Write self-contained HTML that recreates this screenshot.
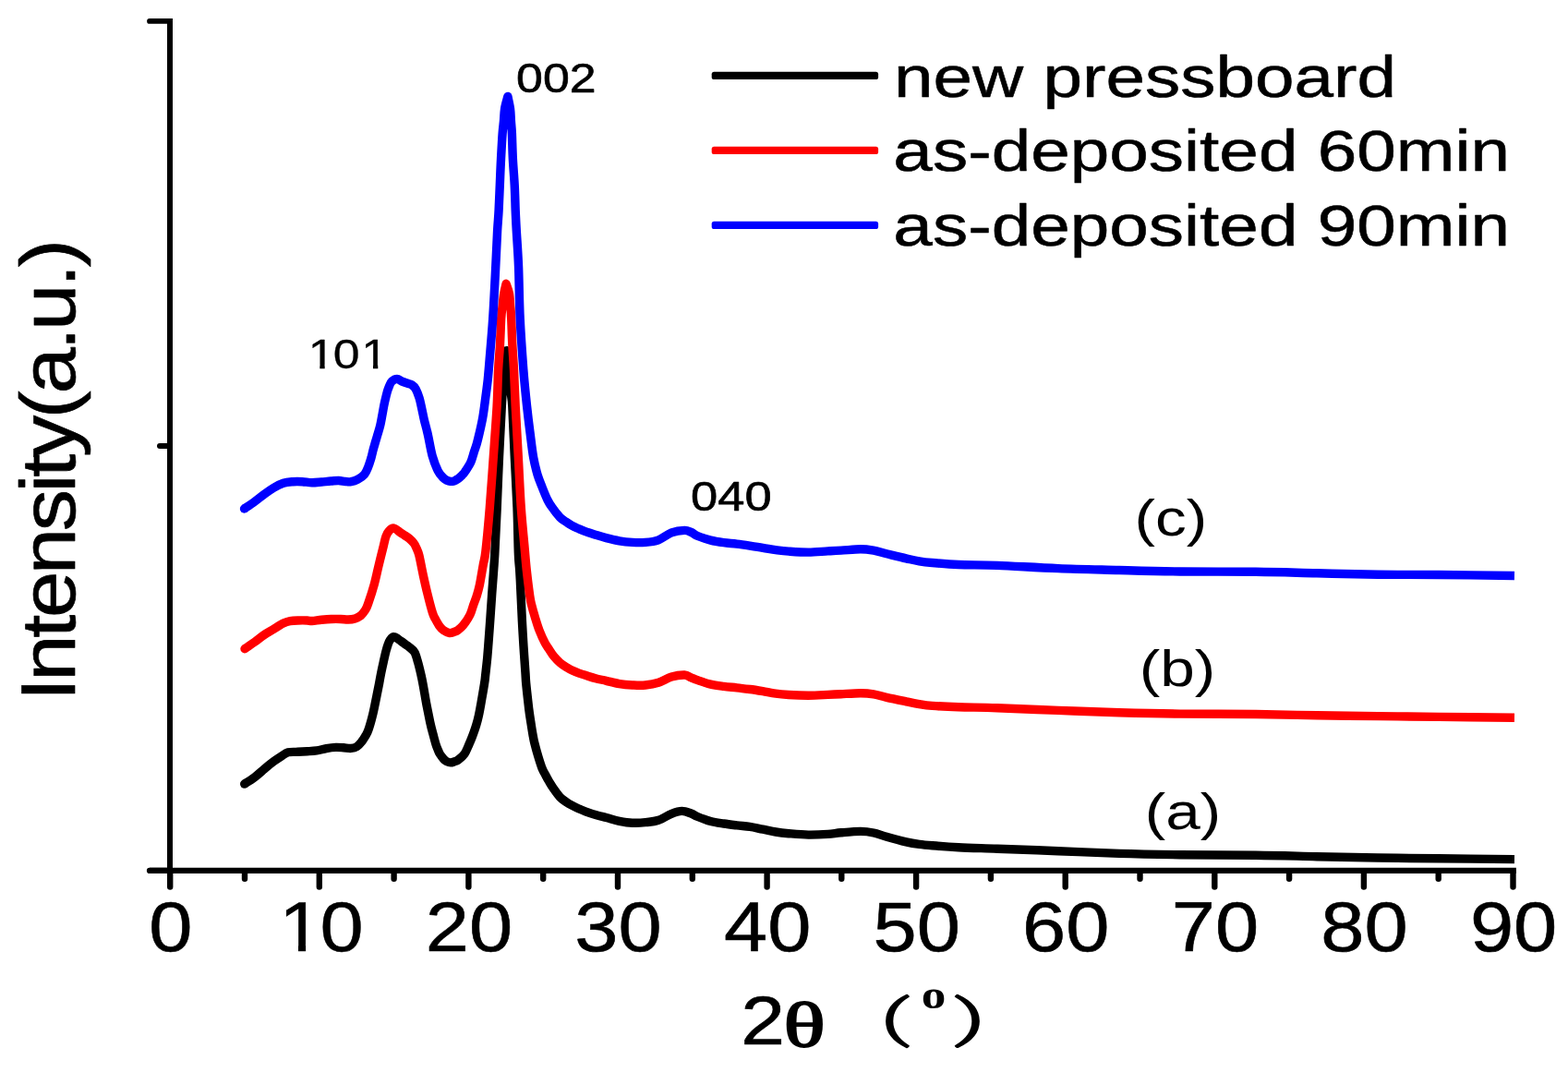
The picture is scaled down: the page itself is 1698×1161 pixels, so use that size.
<!DOCTYPE html>
<html lang="en">
<head>
<meta charset="utf-8">
<title>XRD patterns</title>
<style>
html,body{margin:0;padding:0;background:#fff;}
body{width:1698px;height:1161px;overflow:hidden;}
svg{display:block;}
svg text{white-space:pre;}
</style>
</head>
<body>
<svg width="1698" height="1161" viewBox="0 0 1698 1161" role="img" aria-label="XRD patterns of pressboard samples">
<rect width="1698" height="1161" fill="#fff"/>
<defs><clipPath id="c101" clipPathUnits="userSpaceOnUse"><path clip-rule="evenodd" d="M-400 -200H800V200H-400ZM2.00 -9.5H27.74V4H2.00ZM37.93 -9.5H58.39V4H37.93ZM113.24 -9.5H138.98V4H113.24ZM149.17 -9.5H169.63V4H149.17Z"/></clipPath><clipPath id="c10" clipPathUnits="userSpaceOnUse"><path clip-rule="evenodd" d="M-400 -200H800V200H-400ZM2.00 -9.5H28.07V4H2.00ZM37.60 -9.5H58.39V4H37.60Z"/></clipPath></defs>
<g fill="none" stroke-linejoin="round" stroke-linecap="butt" stroke-width="9.4">
<path stroke="#000" d="M264.7 849.1C266.6 847.9 272.2 844.4 275.8 841.7C279.4 839.0 282.8 835.8 286.2 832.9C289.6 830.0 293.4 826.9 296.5 824.6C299.6 822.3 302.2 820.5 304.8 818.9C307.4 817.3 309.1 815.6 312.0 814.8C314.9 814.0 318.9 814.5 322.4 814.3C325.8 814.1 329.3 813.9 332.7 813.7C336.1 813.5 339.6 813.4 343.0 812.9C346.4 812.4 349.9 811.2 353.4 810.6C356.8 810.0 360.6 809.5 363.7 809.4C366.8 809.3 369.2 809.6 372.0 809.8C374.8 810.0 377.8 810.6 380.2 810.4C382.6 810.2 384.5 809.8 386.4 808.6C388.3 807.4 390.1 805.3 391.6 803.4C393.2 801.5 394.4 799.4 395.7 797.2C396.9 795.0 397.8 794.0 399.1 790.0C400.5 786.0 402.3 779.6 403.8 773.4C405.3 767.2 407.0 758.1 408.1 752.7C409.2 747.4 409.6 745.2 410.4 741.3C411.1 737.4 411.8 733.3 412.6 729.3C413.4 725.3 414.3 721.2 415.2 717.2C416.1 713.2 417.2 708.1 418.0 705.1C418.8 702.1 419.1 701.1 419.8 699.1C420.5 697.1 421.2 694.8 422.3 693.3C423.4 691.8 424.6 689.6 426.6 689.8C428.6 689.9 432.1 692.9 434.1 694.2C436.1 695.5 437.2 696.5 438.7 697.6C440.2 698.7 441.5 699.5 443.2 700.9C444.9 702.3 447.3 703.6 448.9 706.3C450.5 709.0 451.5 713.4 452.6 717.2C453.7 721.0 454.7 725.3 455.6 729.3C456.5 733.3 457.1 735.7 458.1 741.3C459.2 746.9 460.6 756.2 461.9 763.0C463.2 769.8 464.6 776.8 465.7 782.0C466.8 787.2 467.6 790.1 468.7 794.1C469.8 798.1 471.1 803.2 472.0 806.1C472.9 809.0 473.2 809.5 473.9 811.2C474.6 812.9 475.1 814.6 476.2 816.4C477.3 818.2 479.3 820.7 480.5 822.1C481.7 823.5 482.4 824.0 483.6 824.6C484.8 825.2 486.4 825.9 487.8 825.9C489.2 825.9 490.5 825.4 491.9 824.9C493.3 824.4 494.1 824.5 496.0 823.1C497.9 821.7 501.0 819.2 503.0 816.4C505.0 813.6 506.5 809.4 507.9 806.3C509.3 803.1 510.2 801.0 511.5 797.5C512.8 794.0 514.6 789.0 515.7 785.3C516.9 781.5 517.5 779.1 518.4 775.0C519.3 770.9 520.1 766.5 521.1 760.7C522.1 754.9 523.9 744.8 524.6 740.0C525.4 735.2 525.1 736.8 525.6 732.0C526.1 727.2 527.2 718.2 527.8 711.3C528.4 704.4 528.9 697.6 529.4 690.7C529.9 683.8 530.4 677.6 530.9 670.0C531.4 662.4 531.8 656.8 532.6 645.1C533.4 633.4 534.9 615.9 535.8 600.0C536.7 584.1 537.4 567.5 538.2 550.0C539.0 532.5 539.6 513.3 540.5 495.0C541.4 476.7 542.7 451.7 543.3 440.0C543.9 428.3 543.9 431.1 544.1 425.0C544.4 418.9 544.5 409.4 544.8 403.6C545.1 397.8 545.4 394.0 546.0 390.0C546.6 386.0 548.2 381.3 548.6 379.6C549.0 381.3 550.5 386.0 551.2 390.0C551.9 394.0 552.3 397.8 552.6 403.6C552.9 409.4 552.8 418.9 553.2 425.0C553.6 431.1 554.1 428.3 554.8 440.0C555.5 451.7 556.4 476.7 557.3 495.0C558.2 513.3 559.3 532.5 560.0 550.0C560.7 567.5 560.9 588.7 561.4 600.0C561.9 611.3 562.2 610.1 562.7 617.6C563.2 625.1 563.7 635.9 564.1 645.1C564.5 654.3 564.9 663.5 565.4 672.7C565.9 681.9 566.4 691.0 567.0 700.2C567.6 709.4 568.4 721.2 568.9 727.8C569.4 734.4 569.1 733.4 569.7 740.0C570.3 746.6 571.9 760.6 572.7 767.6C573.6 774.6 574.1 777.4 574.8 782.0C575.5 786.6 576.2 791.3 576.9 795.1C577.6 798.9 577.9 801.0 578.9 805.0C579.9 809.0 581.3 814.2 582.7 818.8C584.1 823.4 585.9 829.1 587.2 832.6C588.6 836.1 589.6 837.2 590.8 839.5C592.0 841.8 593.2 844.1 594.6 846.4C596.0 848.7 596.9 850.4 598.9 853.2C600.9 856.0 604.0 860.6 606.4 863.2C608.8 865.8 610.9 867.0 613.2 868.6C615.5 870.2 617.8 871.4 620.1 872.6C622.4 873.8 624.7 875.0 627.0 876.0C629.3 877.0 630.9 877.7 633.9 878.8C636.9 879.9 641.2 881.4 645.0 882.5C648.8 883.6 652.2 884.4 656.5 885.5C660.8 886.6 666.0 888.3 670.7 889.3C675.4 890.2 680.1 891.0 684.8 891.2C689.5 891.4 694.2 891.2 698.9 890.7C703.6 890.2 708.4 889.9 713.1 888.3C717.8 886.7 723.0 882.9 727.2 881.3C731.4 879.6 735.0 878.4 738.5 878.4C742.0 878.4 745.6 880.0 748.4 881.0C751.2 882.0 752.0 883.1 755.5 884.5C759.0 885.9 764.9 888.2 769.6 889.5C774.3 890.8 779.0 891.3 783.7 892.0C788.4 892.7 793.2 893.3 797.9 893.9C802.6 894.5 807.3 894.7 812.0 895.4C816.7 896.1 821.4 897.3 826.1 898.2C830.8 899.1 835.3 900.2 840.0 901.0C844.7 901.8 848.2 902.2 854.1 902.7C860.0 903.2 868.2 904.0 875.3 904.1C882.4 904.2 890.6 903.8 896.5 903.4C902.4 903.0 904.8 902.3 910.7 901.8C916.6 901.3 926.0 900.4 931.9 900.4C937.8 900.4 941.3 901.0 946.0 902.0C950.7 903.0 954.2 904.6 960.1 906.2C966.0 907.9 975.4 910.5 981.3 911.9C987.2 913.3 990.8 913.8 995.5 914.4C1000.2 915.0 1002.5 915.2 1009.6 915.8C1016.7 916.4 1026.2 917.2 1037.9 917.8C1049.6 918.4 1062.0 918.6 1080.0 919.2C1098.0 919.9 1124.0 920.8 1146.0 921.7C1168.0 922.6 1190.0 923.7 1212.0 924.4C1234.0 925.1 1253.3 925.4 1278.0 925.7C1302.7 926.0 1335.3 925.9 1360.0 926.2C1384.7 926.5 1404.0 927.2 1426.0 927.7C1448.0 928.2 1470.0 928.6 1492.0 929.0C1514.0 929.4 1533.3 929.5 1558.0 929.8C1582.7 930.1 1626.3 930.5 1640.0 930.6"/>
<path stroke="#f00" d="M265.0 702.8C266.8 701.5 272.3 697.8 275.8 695.3C279.3 692.8 282.8 689.8 286.2 687.5C289.6 685.2 293.1 683.4 296.5 681.3C299.9 679.2 303.9 676.5 306.8 675.1C309.7 673.7 311.5 673.2 314.1 672.7C316.7 672.2 319.3 672.1 322.4 672.0C325.5 671.9 330.1 671.9 332.7 672.0C335.3 672.1 335.3 672.6 337.9 672.5C340.5 672.4 344.8 671.5 348.2 671.2C351.6 670.9 355.1 670.6 358.5 670.5C361.9 670.4 365.8 670.4 368.9 670.5C372.0 670.6 374.5 671.1 377.1 671.0C379.7 670.9 382.1 670.6 384.4 669.9C386.6 669.2 388.7 668.3 390.6 666.8C392.5 665.2 394.3 662.8 395.7 660.6C397.1 658.4 397.2 658.0 398.8 653.4C400.4 648.8 403.4 639.6 405.3 632.7C407.2 625.8 408.5 618.9 410.2 612.0C411.9 605.1 414.0 596.5 415.3 591.3C416.6 586.1 416.9 583.8 417.9 581.0C418.9 578.2 420.1 576.3 421.5 574.8C422.9 573.3 424.4 571.6 426.5 572.0C428.6 572.4 431.9 575.7 433.9 577.0C435.9 578.3 437.0 579.0 438.5 580.0C440.0 581.0 441.5 581.7 443.1 583.1C444.7 584.5 447.0 586.8 448.3 588.5C449.6 590.2 449.9 591.0 450.8 593.2C451.7 595.4 452.7 596.8 453.9 601.7C455.1 606.6 456.7 615.5 458.2 622.4C459.7 629.3 461.2 636.1 462.9 643.0C464.6 649.9 467.0 659.2 468.4 663.7C469.8 668.2 469.9 667.6 471.2 670.0C472.5 672.4 474.5 676.2 476.0 678.3C477.5 680.4 478.5 681.4 480.3 682.6C482.1 683.8 484.9 685.3 486.8 685.6C488.7 685.9 490.2 684.9 491.7 684.4C493.2 683.9 494.3 683.6 495.9 682.4C497.5 681.2 499.3 680.0 501.5 677.3C503.7 674.6 507.1 669.6 508.9 666.0C510.7 662.4 511.3 659.2 512.5 655.7C513.7 652.2 515.1 649.0 516.3 645.3C517.4 641.6 518.2 639.0 519.4 633.5C520.5 628.0 522.1 618.1 523.2 612.0C524.3 605.9 524.7 607.3 525.9 597.0C527.1 586.7 528.9 567.2 530.3 550.2C531.7 533.2 533.0 513.5 534.3 495.1C535.6 476.7 537.2 455.8 538.1 440.0C539.0 424.2 539.0 411.4 539.6 400.2C540.2 389.0 541.0 381.9 541.5 372.7C542.0 363.5 542.3 352.0 542.7 345.1C543.1 338.2 543.6 335.9 544.1 331.3C544.6 326.7 545.1 321.6 545.8 317.6C546.5 313.6 547.7 309.0 548.1 307.3C548.6 309.0 550.6 313.6 551.4 317.6C552.2 321.6 552.3 326.7 552.7 331.3C553.1 335.9 553.4 338.2 553.7 345.1C554.1 352.0 554.3 363.5 554.8 372.7C555.3 381.9 555.9 389.0 556.5 400.2C557.1 411.4 557.4 424.2 558.2 440.0C559.0 455.8 560.3 476.7 561.3 495.1C562.3 513.5 563.2 534.4 564.3 550.2C565.4 566.0 566.8 578.8 567.8 590.0C568.8 601.2 569.3 608.4 570.3 617.6C571.3 626.8 572.8 638.9 573.7 645.1C574.6 651.3 574.6 651.0 575.6 655.0C576.6 659.0 578.1 664.2 579.5 668.8C580.9 673.4 582.2 678.0 584.0 682.6C585.8 687.2 588.4 693.0 590.2 696.4C592.0 699.8 593.1 700.9 594.6 703.2C596.1 705.6 597.5 708.1 599.5 710.5C601.5 712.9 604.1 715.7 606.4 717.7C608.7 719.7 610.9 721.0 613.2 722.4C615.5 723.8 617.8 725.2 620.1 726.3C622.4 727.4 624.7 728.3 627.0 729.1C629.3 729.9 630.9 730.4 633.9 731.3C636.9 732.2 641.2 733.7 645.0 734.7C648.8 735.7 652.2 736.3 656.5 737.3C660.8 738.3 666.0 739.8 670.7 740.6C675.4 741.4 680.1 741.8 684.8 742.0C689.5 742.2 694.2 742.5 698.9 742.0C703.6 741.5 708.4 740.7 713.1 739.2C717.8 737.7 722.5 734.5 727.2 733.1C731.9 731.7 737.8 730.9 741.3 731.0C744.8 731.1 746.0 732.9 748.4 733.8C750.8 734.7 752.0 735.4 755.5 736.6C759.0 737.8 764.9 740.1 769.6 741.2C774.3 742.3 779.0 742.8 783.7 743.4C788.4 744.0 793.2 744.3 797.9 744.8C802.6 745.3 807.3 745.9 812.0 746.5C816.7 747.1 821.4 747.9 826.1 748.7C830.8 749.5 835.3 750.6 840.0 751.2C844.7 751.8 848.2 752.1 854.1 752.5C860.0 752.9 868.2 753.3 875.3 753.3C882.4 753.3 890.6 752.7 896.5 752.4C902.4 752.1 904.8 752.0 910.7 751.7C916.6 751.4 926.0 750.7 931.9 750.7C937.8 750.7 941.3 751.0 946.0 751.8C950.7 752.6 954.2 754.1 960.1 755.4C966.0 756.7 975.4 758.6 981.3 759.8C987.2 761.0 990.8 761.8 995.5 762.6C1000.2 763.4 1002.5 763.9 1009.6 764.4C1016.7 764.9 1026.2 765.4 1037.9 765.8C1049.6 766.2 1062.0 766.1 1080.0 766.7C1098.0 767.3 1124.0 768.6 1146.0 769.4C1168.0 770.2 1190.0 771.1 1212.0 771.7C1234.0 772.3 1253.3 772.8 1278.0 773.1C1302.7 773.4 1335.3 773.2 1360.0 773.5C1384.7 773.8 1404.0 774.4 1426.0 774.8C1448.0 775.1 1470.0 775.3 1492.0 775.6C1514.0 775.9 1533.3 776.1 1558.0 776.4C1582.7 776.7 1626.3 777.1 1640.0 777.3"/>
<path stroke="#00f" d="M264.5 551.0C266.4 549.7 272.2 545.8 275.8 543.2C279.4 540.6 282.8 537.7 286.2 535.2C289.6 532.7 293.1 530.2 296.5 528.2C299.9 526.2 303.4 524.4 306.8 523.3C310.2 522.2 313.8 522.0 317.2 521.7C320.6 521.4 324.1 521.5 327.5 521.7C330.9 521.9 334.4 522.8 337.9 522.8C341.3 522.8 344.8 522.3 348.2 522.0C351.6 521.7 355.4 521.2 358.5 521.0C361.6 520.8 364.2 520.4 366.8 520.5C369.4 520.6 371.8 521.3 374.0 521.5C376.2 521.7 377.9 522.1 380.2 521.7C382.4 521.3 385.1 520.4 387.5 519.1C389.9 517.8 392.8 516.0 394.7 513.7C396.6 511.4 397.6 508.4 398.8 505.5C400.0 502.6 400.9 499.5 401.9 496.2C402.8 492.9 403.4 489.7 404.5 485.8C405.6 481.9 407.1 476.8 408.3 472.7C409.5 468.6 410.7 465.2 411.6 461.3C412.6 457.4 413.2 453.2 414.0 449.2C414.8 445.2 415.3 441.2 416.2 437.2C417.1 433.2 418.3 428.1 419.1 425.1C419.9 422.1 420.4 421.1 421.2 419.1C422.0 417.2 422.5 414.8 424.0 413.4C425.5 411.9 428.1 410.4 430.0 410.4C431.9 410.4 433.5 412.4 435.4 413.2C437.3 414.0 439.7 414.7 441.5 415.3C443.3 415.9 444.7 416.0 446.2 417.0C447.7 418.0 449.0 419.0 450.3 421.4C451.6 423.8 453.0 427.6 454.1 431.2C455.2 434.8 456.0 439.2 456.9 443.2C457.8 447.2 458.6 451.7 459.5 455.3C460.4 458.9 461.3 462.1 462.0 465.0C462.7 467.9 462.8 468.0 463.8 472.7C464.8 477.4 466.4 487.2 468.1 493.4C469.9 499.6 472.3 505.9 474.3 510.0C476.3 514.1 478.7 516.1 480.3 517.8C481.9 519.5 482.8 519.6 484.0 520.2C485.2 520.8 486.2 521.2 487.5 521.3C488.8 521.4 490.3 521.3 491.7 520.9C493.1 520.5 494.4 519.6 495.9 518.6C497.4 517.6 499.2 515.9 500.5 514.6C501.8 513.3 502.0 513.3 503.5 511.0C505.0 508.7 508.0 504.4 509.6 501.0C511.2 497.6 511.9 494.1 513.0 490.7C514.1 487.2 515.4 483.9 516.4 480.3C517.4 476.7 518.1 473.7 519.2 469.0C520.3 464.3 521.7 458.3 522.8 452.0C523.9 445.7 524.8 438.2 525.7 431.3C526.6 424.4 527.6 417.6 528.3 410.7C529.0 403.8 529.2 400.9 530.1 390.0C531.0 379.1 532.6 361.8 533.7 345.1C534.8 328.4 535.9 305.9 536.7 290.0C537.5 274.1 538.0 260.4 538.6 250.0C539.2 239.6 539.7 236.1 540.1 227.8C540.5 219.5 540.9 209.4 541.3 200.2C541.7 191.0 542.0 181.9 542.5 172.7C543.0 163.5 543.6 151.9 544.1 145.0C544.6 138.1 545.1 135.6 545.5 131.0C545.9 126.4 545.9 122.0 546.6 117.6C547.3 113.2 549.4 106.6 549.9 104.4C550.3 106.6 551.9 113.2 552.5 117.6C553.1 122.0 553.1 126.4 553.4 131.0C553.7 135.6 554.1 138.1 554.4 145.0C554.7 151.9 554.9 163.5 555.4 172.7C555.9 181.9 556.7 191.0 557.2 200.2C557.7 209.4 557.9 219.5 558.2 227.8C558.6 236.1 558.7 239.6 559.3 250.0C559.9 260.4 561.0 274.1 561.6 290.0C562.2 305.9 562.3 326.7 563.2 345.1C564.1 363.5 565.6 384.4 566.8 400.2C568.0 416.0 569.4 428.8 570.6 440.0C571.8 451.2 572.7 458.4 573.9 467.6C575.1 476.8 576.2 487.4 577.6 495.1C579.0 502.8 580.4 508.4 582.0 513.8C583.6 519.2 585.3 523.0 587.1 527.6C588.9 532.2 591.2 537.9 592.9 541.4C594.6 544.9 595.0 545.5 597.3 548.6C599.5 551.8 603.8 557.5 606.4 560.3C609.0 563.1 610.9 563.8 613.2 565.3C615.5 566.8 617.8 568.4 620.1 569.6C622.4 570.9 624.7 571.8 627.0 572.8C629.3 573.8 630.9 574.5 633.9 575.6C636.9 576.7 641.2 578.0 645.0 579.2C648.8 580.4 652.2 581.5 656.5 582.6C660.8 583.7 666.0 585.0 670.7 585.8C675.4 586.6 680.1 587.1 684.8 587.4C689.5 587.7 694.2 587.8 698.9 587.4C703.6 587.0 708.4 586.5 713.1 584.8C717.8 583.0 722.5 578.6 727.2 576.9C731.9 575.2 737.8 574.5 741.3 574.4C744.8 574.3 746.0 575.4 748.4 576.4C750.8 577.4 752.0 579.0 755.5 580.5C759.0 582.0 764.9 583.9 769.6 585.1C774.3 586.3 779.0 587.0 783.7 587.7C788.4 588.4 793.2 588.5 797.9 589.1C802.6 589.7 807.3 590.4 812.0 591.1C816.7 591.8 821.4 592.5 826.1 593.3C830.8 594.0 835.3 595.0 840.0 595.6C844.7 596.2 848.2 596.7 854.1 597.1C860.0 597.5 868.2 598.1 875.3 598.1C882.4 598.1 890.6 597.2 896.5 596.9C902.4 596.6 904.8 596.5 910.7 596.1C916.6 595.8 926.0 594.8 931.9 594.8C937.8 594.8 941.3 595.4 946.0 596.2C950.7 597.0 954.2 598.4 960.1 599.8C966.0 601.2 975.4 603.5 981.3 604.8C987.2 606.1 990.8 607.0 995.5 607.8C1000.2 608.6 1002.5 608.9 1009.6 609.5C1016.7 610.1 1026.2 611.0 1037.9 611.5C1049.6 612.0 1062.0 611.7 1080.0 612.4C1098.0 613.1 1124.0 614.8 1146.0 615.6C1168.0 616.5 1190.0 616.9 1212.0 617.5C1234.0 618.1 1253.3 618.7 1278.0 619.0C1302.7 619.3 1335.3 619.0 1360.0 619.3C1384.7 619.6 1404.0 620.3 1426.0 620.8C1448.0 621.3 1470.0 621.9 1492.0 622.2C1514.0 622.5 1533.3 622.3 1558.0 622.5C1582.7 622.7 1626.3 623.3 1640.0 623.5"/>
</g>
<g>
<circle cx="264.7" cy="849.1" r="4.7" fill="#000"/>
<circle cx="265" cy="702.8" r="4.7" fill="#f00"/>
<circle cx="264.5" cy="551" r="4.7" fill="#00f"/>
</g>
<g stroke="#000" fill="none"><line x1="184.0" y1="20.0" x2="184.0" y2="960.7" stroke-width="6" stroke-linecap="butt"/><line x1="162.0" y1="942.9" x2="1641.9" y2="942.9" stroke-width="6.2" stroke-linecap="butt"/><line x1="162.0" y1="22.9" x2="184.0" y2="22.9" stroke-width="5.8" stroke-linecap="round"/><line x1="162.0" y1="942.9" x2="184.0" y2="942.9" stroke-width="6.2" stroke-linecap="round"/><line x1="173.0" y1="483.0" x2="184.0" y2="483.0" stroke-width="6" stroke-linecap="round"/><line x1="184.2" y1="944.1" x2="184.2" y2="960.6" stroke-width="6.4" stroke-linecap="round"/><line x1="265.0" y1="944.1" x2="265.0" y2="951.8" stroke-width="6.4" stroke-linecap="round"/><line x1="345.8" y1="944.1" x2="345.8" y2="960.6" stroke-width="6.4" stroke-linecap="round"/><line x1="426.6" y1="944.1" x2="426.6" y2="951.8" stroke-width="6.4" stroke-linecap="round"/><line x1="507.4" y1="944.1" x2="507.4" y2="960.6" stroke-width="6.4" stroke-linecap="round"/><line x1="588.2" y1="944.1" x2="588.2" y2="951.8" stroke-width="6.4" stroke-linecap="round"/><line x1="669.0" y1="944.1" x2="669.0" y2="960.6" stroke-width="6.4" stroke-linecap="round"/><line x1="749.8" y1="944.1" x2="749.8" y2="951.8" stroke-width="6.4" stroke-linecap="round"/><line x1="830.6" y1="944.1" x2="830.6" y2="960.6" stroke-width="6.4" stroke-linecap="round"/><line x1="911.3" y1="944.1" x2="911.3" y2="951.8" stroke-width="6.4" stroke-linecap="round"/><line x1="992.1" y1="944.1" x2="992.1" y2="960.6" stroke-width="6.4" stroke-linecap="round"/><line x1="1072.9" y1="944.1" x2="1072.9" y2="951.8" stroke-width="6.4" stroke-linecap="round"/><line x1="1153.7" y1="944.1" x2="1153.7" y2="960.6" stroke-width="6.4" stroke-linecap="round"/><line x1="1234.5" y1="944.1" x2="1234.5" y2="951.8" stroke-width="6.4" stroke-linecap="round"/><line x1="1315.3" y1="944.1" x2="1315.3" y2="960.6" stroke-width="6.4" stroke-linecap="round"/><line x1="1396.1" y1="944.1" x2="1396.1" y2="951.8" stroke-width="6.4" stroke-linecap="round"/><line x1="1476.9" y1="944.1" x2="1476.9" y2="960.6" stroke-width="6.4" stroke-linecap="round"/><line x1="1557.7" y1="944.1" x2="1557.7" y2="951.8" stroke-width="6.4" stroke-linecap="round"/><line x1="1638.5" y1="944.1" x2="1638.5" y2="960.6" stroke-width="6.4" stroke-linecap="round"/></g>
<g>
<rect x="770.7" y="77.70" width="180.4" height="8.3" rx="2.6" ry="2.6" fill="#000"/>
<rect x="770.7" y="158.75" width="180.4" height="8.3" rx="2.6" ry="2.6" fill="#f00"/>
<rect x="770.7" y="239.70" width="180.4" height="8.3" rx="2.6" ry="2.6" fill="#00f"/>
</g>
<g fill="#000"><text transform="matrix(0.7646 0.0000 0.0000 0.6338 968.04 104.65)" font-family='"Liberation Sans", sans-serif' font-size="100" font-weight="normal" text-anchor="start" stroke="#000" stroke-width="0.6" vector-effect="non-scaling-stroke" stroke-linejoin="round">new pressboard</text>
<text transform="matrix(0.7652 0.0000 0.0000 0.6338 967.35 185.15)" font-family='"Liberation Sans", sans-serif' font-size="100" font-weight="normal" text-anchor="start" stroke="#000" stroke-width="0.6" vector-effect="non-scaling-stroke" stroke-linejoin="round">as-deposited 60min</text>
<text transform="matrix(0.7652 0.0000 0.0000 0.6338 967.35 265.55)" font-family='"Liberation Sans", sans-serif' font-size="100" font-weight="normal" text-anchor="start" stroke="#000" stroke-width="0.6" vector-effect="non-scaling-stroke" stroke-linejoin="round">as-deposited 90min</text>
<text transform="matrix(0.5179 0.0000 0.0000 0.4466 559.08 100.30)" font-family='"Liberation Sans", sans-serif' font-size="100" font-weight="normal" text-anchor="start" stroke="#000" stroke-width="0.7" vector-effect="non-scaling-stroke" stroke-linejoin="round">002</text>
<text transform="matrix(0.5179 0.0000 0.0000 0.4466 332.00 399.20)" font-family='"Liberation Sans", sans-serif' font-size="100" font-weight="normal" text-anchor="start" stroke="#000" stroke-width="0.7" vector-effect="non-scaling-stroke" stroke-linejoin="round" clip-path="url(#c101)"><tspan dx="3.27">1</tspan><tspan dx="-3.27">0</tspan><tspan dx="3.27">1</tspan></text>
<text transform="matrix(0.5252 0.0000 0.0000 0.4466 748.05 553.40)" font-family='"Liberation Sans", sans-serif' font-size="100" font-weight="normal" text-anchor="start" stroke="#000" stroke-width="0.7" vector-effect="non-scaling-stroke" stroke-linejoin="round">040</text>
<text transform="matrix(0.6753 0.0000 0.0000 0.5587 1228.48 580.31)" font-family='"Liberation Sans", sans-serif' font-size="100" font-weight="normal" text-anchor="start">(c)</text>
<text transform="matrix(0.6752 0.0000 0.0000 0.5598 1233.68 743.38)" font-family='"Liberation Sans", sans-serif' font-size="100" font-weight="normal" text-anchor="start">(b)</text>
<text transform="matrix(0.6752 0.0000 0.0000 0.5609 1239.68 898.46)" font-family='"Liberation Sans", sans-serif' font-size="100" font-weight="normal" text-anchor="start">(a)</text>
<text transform="matrix(0.8488 0.0000 0.0000 0.7661 161.20 1030.13)" font-family='"Liberation Sans", sans-serif' font-size="100" font-weight="normal" text-anchor="start" stroke="#000" stroke-width="0.6" vector-effect="non-scaling-stroke" stroke-linejoin="round">0</text>
<text transform="matrix(0.8488 0.0000 0.0000 0.7661 299.18 1030.13)" font-family='"Liberation Sans", sans-serif' font-size="100" font-weight="normal" text-anchor="start" stroke="#000" stroke-width="0.6" vector-effect="non-scaling-stroke" stroke-linejoin="round" clip-path="url(#c10)"><tspan dx="3.27">1</tspan><tspan dx="-3.27">0</tspan></text>
<text transform="matrix(0.8488 0.0000 0.0000 0.7661 460.77 1030.13)" font-family='"Liberation Sans", sans-serif' font-size="100" font-weight="normal" text-anchor="start" stroke="#000" stroke-width="0.6" vector-effect="non-scaling-stroke" stroke-linejoin="round">20</text>
<text transform="matrix(0.8488 0.0000 0.0000 0.7661 622.36 1030.13)" font-family='"Liberation Sans", sans-serif' font-size="100" font-weight="normal" text-anchor="start" stroke="#000" stroke-width="0.6" vector-effect="non-scaling-stroke" stroke-linejoin="round">30</text>
<text transform="matrix(0.8488 0.0000 0.0000 0.7661 783.95 1030.13)" font-family='"Liberation Sans", sans-serif' font-size="100" font-weight="normal" text-anchor="start" stroke="#000" stroke-width="0.6" vector-effect="non-scaling-stroke" stroke-linejoin="round">40</text>
<text transform="matrix(0.8488 0.0000 0.0000 0.7661 945.54 1030.13)" font-family='"Liberation Sans", sans-serif' font-size="100" font-weight="normal" text-anchor="start" stroke="#000" stroke-width="0.6" vector-effect="non-scaling-stroke" stroke-linejoin="round">50</text>
<text transform="matrix(0.8488 0.0000 0.0000 0.7661 1107.12 1030.13)" font-family='"Liberation Sans", sans-serif' font-size="100" font-weight="normal" text-anchor="start" stroke="#000" stroke-width="0.6" vector-effect="non-scaling-stroke" stroke-linejoin="round">60</text>
<text transform="matrix(0.8488 0.0000 0.0000 0.7661 1268.71 1030.13)" font-family='"Liberation Sans", sans-serif' font-size="100" font-weight="normal" text-anchor="start" stroke="#000" stroke-width="0.6" vector-effect="non-scaling-stroke" stroke-linejoin="round">70</text>
<text transform="matrix(0.8488 0.0000 0.0000 0.7661 1430.30 1030.13)" font-family='"Liberation Sans", sans-serif' font-size="100" font-weight="normal" text-anchor="start" stroke="#000" stroke-width="0.6" vector-effect="non-scaling-stroke" stroke-linejoin="round">80</text>
<text transform="matrix(0.8488 0.0000 0.0000 0.7661 1591.89 1030.13)" font-family='"Liberation Sans", sans-serif' font-size="100" font-weight="normal" text-anchor="start" stroke="#000" stroke-width="0.6" vector-effect="non-scaling-stroke" stroke-linejoin="round">90</text>
<text transform="matrix(0.8593 0.0000 0.0000 0.7441 802.25 1131.35)" font-family='"Liberation Sans", sans-serif' font-size="100" font-weight="normal" text-anchor="start" stroke="#000" stroke-width="0.7" vector-effect="non-scaling-stroke" stroke-linejoin="round">2</text>
<text transform="matrix(0.9436 0.0000 0.0000 0.6732 848.42 1133.03)" font-family='"Liberation Serif", serif' font-size="100" font-weight="normal" text-anchor="start" stroke="#000" stroke-width="2.2" vector-effect="non-scaling-stroke" stroke-linejoin="round">θ</text>
<text transform="matrix(0.8000 0.0000 0.0000 0.5989 908.40 1129.16)" font-family='"Liberation Serif", "Noto Serif CJK SC", serif' font-size="100" font-weight="normal" text-anchor="start" stroke="#000" stroke-width="2.6" vector-effect="non-scaling-stroke" stroke-linejoin="round">（</text>
<text transform="matrix(0.5318 0.0000 0.0000 0.4417 997.71 1092.36)" font-family='"Liberation Serif", serif' font-size="100" font-weight="bold" text-anchor="start">o</text>
<text transform="matrix(0.8417 0.0000 0.0000 0.5989 1029.94 1129.16)" font-family='"Liberation Serif", "Noto Serif CJK SC", serif' font-size="100" font-weight="normal" text-anchor="start" stroke="#000" stroke-width="2.6" vector-effect="non-scaling-stroke" stroke-linejoin="round">）</text>
<text transform="matrix(0.0000 -0.9050 0.8300 0.0000 81.00 759.37)" font-family='"Liberation Sans", sans-serif' font-size="100" font-weight="normal" text-anchor="start" stroke="#000" stroke-width="0.7" vector-effect="non-scaling-stroke" stroke-linejoin="round" letter-spacing="-3.79">Intensity(a.u.)</text></g>
</svg>
</body>
</html>
